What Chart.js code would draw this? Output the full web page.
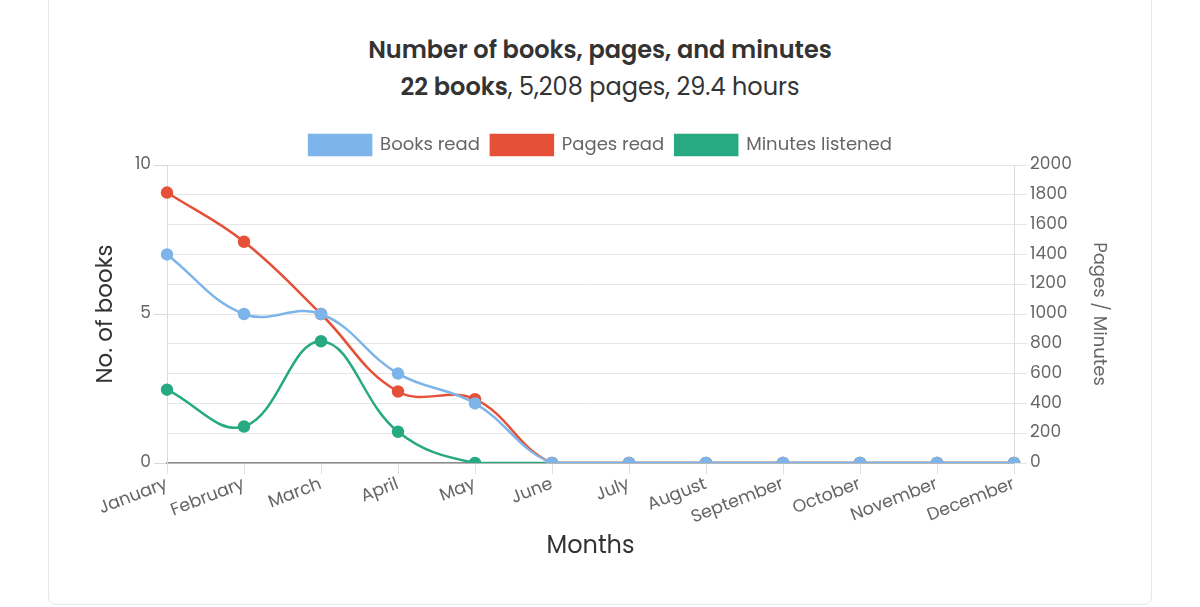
<!DOCTYPE html>
<html>
<head>
<meta charset="utf-8">
<script src="https://cdn.jsdelivr.net/npm/chart.js@4"></script>
<style>
  html, body { margin:0; padding:0; background:#fff; width:1200px; height:607px; overflow:hidden; font-family: Poppins, "Open Sans", sans-serif; }
  #card { position:absolute; left:48px; top:-12px; width:1104px; height:617px; border:1px solid #e6e6e6; border-radius:8px; box-sizing:border-box; background:#fff; }
  #t1 { position:absolute; left:0; width:1200px; top:33px; text-align:center; font-size:24px; font-weight:600; color:#333; line-height:34px; }
  #t2 { position:absolute; left:0; width:1200px; top:70px; text-align:center; font-size:24px; color:#333; line-height:34px; }
  #t2 b { font-weight:600; }
  #wrap { position:absolute; left:48px; top:124px; width:1104px; height:437px; }
</style>
</head>
<body>
<div id="card"></div>
<div id="t1">Number of books, pages, and minutes</div>
<div id="t2"><b>22 books</b>, 5,208 pages, 29.4 hours</div>
<div id="wrap"><canvas id="c"></canvas></div>
<script>
const months = ["January","February","March","April","May","June","July","August","September","October","November","December"];
const booksRead = [7,5,5,3,2,0,0,0,0,0,0,0];
const pagesRead = [1815,1485,1000,480,428,0,0,0,0,0,0,0];
const minutesListened = [492,245,817,210,0,0,0,0,0,0,0,0];
const leftTicks = [0,5,10];
const rightMax = 2000, rightStep = 200;

const FONT = 'Poppins, "Open Sans", sans-serif';
const BLUE = '#7db4e9', RED = '#e65038', GREEN = '#27a981';

function ds(label, data, color, axis) {
  return { label, data, yAxisID: axis, borderColor: color, backgroundColor: color,
    pointBackgroundColor: color, pointBorderColor: color, pointRadius: 5, pointHoverRadius: 5,
    borderWidth: 2.5, tension: 0.4, fill: false };
}

new Chart(document.getElementById('c'), {
  type: 'line',
  data: {
    labels: months,
    datasets: [
      ds('Books read', booksRead, BLUE, 'y'),
      ds('Pages read', pagesRead, RED, 'y1'),
      ds('Minutes listened', minutesListened, GREEN, 'y1')
    ]
  },
  options: {
    responsive: true, maintainAspectRatio: false, animation: false,
    layout: { padding: { top: 0, bottom: 0, left: 40, right: 39 } },
    plugins: {
      tooltip: { enabled: false },
      legend: { position: 'top', labels: { boxWidth: 62, boxHeight: 20, padding: 11, color: '#666', font: { family: FONT, size: 18 } } }
    },
    scales: {
      x: {
        grid: { drawOnChartArea: false, color: '#dedede', tickLength: 11 },
        border: { color: '#8a8a8a', width: 1.5 },
        ticks: { color: '#666', font: { family: FONT, size: 17.5 }, minRotation: 21, maxRotation: 21, padding: 0 },
        title: { display: true, text: 'Months', color: '#333', font: { family: FONT, size: 24 }, padding: { top: 0, bottom: 0 } },
        afterFit: s => { s.height = 98; }
      },
      y: {
        position: 'left', min: 0, max: 10,
        afterBuildTicks: s => { s.ticks = leftTicks.map(v => ({ value: v })); },
        grid: { drawOnChartArea: false, color: '#d8d8d8', tickLength: 13 },
        border: { color: '#dcdcdc' },
        ticks: { color: '#666', font: { family: FONT, size: 17 }, padding: 3 },
        title: { display: true, text: 'No. of books', color: '#333', font: { family: FONT, size: 23 } },
        afterFit: s => { s.width = 79; }
      },
      y1: {
        position: 'right', min: 0, max: rightMax,
        grid: { color: '#e6e6e6', tickLength: 13 },
        border: { color: '#dcdcdc' },
        ticks: { stepSize: rightStep, color: '#666', font: { family: FONT, size: 17 }, padding: 3,
                 callback: v => String(v) },
        title: { display: true, text: 'Pages / Minutes', color: '#666', font: { family: FONT, size: 18 } },
        afterFit: s => { s.width = 99; }
      }
    }
  }
});
</script>
</body>
</html>
